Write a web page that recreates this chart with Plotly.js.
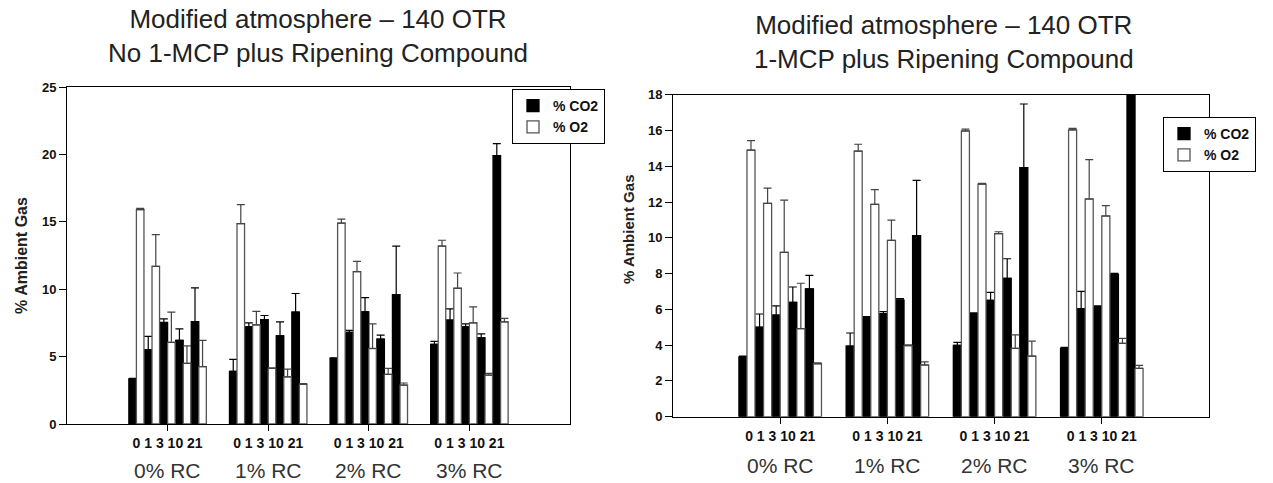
<!DOCTYPE html>
<html>
<head>
<meta charset="utf-8">
<script src="https://cdn.plot.ly/plotly-3.0.1.min.js"></script>
<style>html,body{margin:0;padding:0;background:#fff;}#chart{width:1273px;height:483px;}</style>
</head>
<body>
<div id="chart"></div>
<script>
// ---- data ----
const groups = ['0% RC', '1% RC', '2% RC', '3% RC'];
const days = ['0', '1', '3', '10', '21'];

// Left chart: No 1-MCP plus Ripening Compound (values by group, then day)
const leftCO2    = [3.33, 5.5, 7.53, 6.2, 7.6,   3.9, 7.2, 7.75, 6.54, 8.3,   4.86, 6.8, 8.32, 6.3, 9.6,   5.9, 7.7, 7.2, 6.39, 19.9];
const leftCO2Err = [0.05, 1.0, 0.27, 0.86, 2.5,  0.9, 0.3, 0.3, 1.04, 1.38,   0.05, 0.14, 1.06, 0.3, 3.6,  0.23, 0.84, 0.23, 0.3, 0.9];
const leftO2     = [15.9, 11.7, 6.05, 4.5, 4.25, 14.87, 7.36, 4.12, 3.5, 2.94, 14.9, 11.3, 5.6, 3.68, 2.89, 13.19, 10.07, 7.5, 3.63, 7.58];
const leftO2Err  = [0.1, 2.35, 2.25, 1.3, 1.95,  1.4, 1.0, 0.05, 0.57, 0.05,  0.3, 0.77, 1.83, 0.44, 0.15,  0.44, 1.13, 1.19, 0.12, 0.25];

// Right chart: 1-MCP plus Ripening Compound
const rightCO2    = [3.34, 5.0, 5.68, 6.39, 7.14,  3.95, 5.55, 5.76, 6.52, 10.12,  3.99, 5.76, 6.5, 7.73, 13.92,  3.82, 6.04, 6.15, 7.96, 20];
const rightCO2Err = [0.05, 0.74, 0.52, 0.86, 0.76, 0.73, 0.05, 0.11, 0.08, 3.09,   0.17, 0.05, 0.45, 1.1, 3.56,   0.05, 0.97, 0.05, 0.05, 0];
const rightO2     = [14.9, 11.93, 9.19, 4.92, 2.96, 14.85, 11.87, 9.86, 3.97, 2.89, 15.97, 13.0, 10.23, 3.82, 3.39, 16.03, 12.17, 11.22, 4.1, 2.7];
const rightO2Err  = [0.53, 0.85, 2.92, 2.54, 0.05,  0.38, 0.82, 1.13, 0.05, 0.17,  0.11, 0.05, 0.11, 0.75, 0.84,  0.09, 2.2, 0.58, 0.28, 0.17];

// ---- layout helpers ----
const DAY_STEP = 0.155, BAR_W = 0.075;
const xPos = [];
groups.forEach((g, gi) => days.forEach((d, di) => xPos.push(gi + (di - 2) * DAY_STEP)));
const zeros = xPos.map(() => 0);
const FONT = 'Arial, "Liberation Sans", sans-serif';
const YTITLE = '<b>% Ambient Gas</b>';

function barTrace(name, y, err, isCO2, xa, ya, legend) {
  return {
    type: 'bar', name: name, x: xPos, y: y,
    xaxis: xa, yaxis: ya, legend: legend,
    width: BAR_W, offset: isCO2 ? -BAR_W : 0,
    marker: {color: isCO2 ? '#000' : '#fff', line: {color: isCO2 ? '#000' : '#555', width: 1.3}},
    error_y: {type: 'data', symmetric: false, array: err, arrayminus: zeros,
              color: isCO2 ? '#000' : '#444', thickness: 1.2, width: 4},
    hoverinfo: 'x+y'
  };
}

const data = [
  barTrace('% CO2', leftCO2, leftCO2Err, true, 'x', 'y', 'legend'),
  barTrace('% O2', leftO2, leftO2Err, false, 'x', 'y', 'legend'),
  barTrace('% CO2', rightCO2, rightCO2Err, true, 'x2', 'y2', 'legend2'),
  barTrace('% O2', rightO2, rightO2Err, false, 'x2', 'y2', 'legend2')
];

const W = 1273, H = 483;
const px = v => v / W, py = v => (H - v) / H;
const dayText = days.join(' ');

function xAxis(domain, anchor) {
  return {domain: domain, anchor: anchor, range: [-1, 4], tickvals: [0, 1, 2, 3],
    ticktext: groups.map(() => '<b>' + dayText + '</b>'), ticks: 'outside', ticklen: 6, tickcolor: '#000',
    tickfont: {family: FONT, size: 14, color: '#111'},
    showline: true, linecolor: '#000', linewidth: 1, mirror: true,
    showgrid: false, zeroline: false, fixedrange: true};
}
function yAxis(domain, anchor, max, dtick, title) {
  const ax = {domain: domain, anchor: anchor, range: [0, max], dtick: dtick,
    ticks: 'outside', ticklen: 7, tickcolor: '#000',
    tickfont: {family: FONT, size: 13, weight: 'bold', color: '#111'},
    showline: true, linecolor: '#000', linewidth: 1, mirror: true,
    showgrid: false, zeroline: false, fixedrange: true};
  if (title) ax.title = {text: YTITLE, font: {family: FONT, size: 16, color: '#222'}, standoff: 10};
  return ax;
}

const annotations = [];
// Titles
annotations.push({text: 'Modified atmosphere – 140 OTR<br>No 1-MCP plus Ripening Compound',
  xref: 'paper', yref: 'paper', x: px(318), y: py(36), xanchor: 'center', yanchor: 'middle',
  showarrow: false, font: {family: FONT, size: 26, color: '#222'}});
annotations.push({text: 'Modified atmosphere – 140 OTR<br>1-MCP plus Ripening Compound',
  xref: 'paper', yref: 'paper', x: px(944), y: py(42), xanchor: 'center', yanchor: 'middle',
  showarrow: false, font: {family: FONT, size: 26, color: '#222'}});
// Right y-axis title (placed above the domain centre, as in the reference)
annotations.push({text: YTITLE, textangle: -90, xref: 'paper', yref: 'paper',
  x: px(628), y: py(230), xanchor: 'center', yanchor: 'middle', showarrow: false,
  font: {family: FONT, size: 15, color: '#222'}});
// Group labels
groups.forEach((g, gi) => {
  annotations.push({text: g, xref: 'x', yref: 'paper', x: gi, y: py(470), yanchor: 'middle',
    showarrow: false, font: {family: FONT, size: 21, color: '#333'}});
  annotations.push({text: g, xref: 'x2', yref: 'paper', x: gi, y: py(465), yanchor: 'middle',
    showarrow: false, font: {family: FONT, size: 21, color: '#333'}});
});

const legendBase = {bgcolor: '#fff', bordercolor: '#000', borderwidth: 1,
  font: {family: FONT, size: 14, weight: 'bold', color: '#111'},
  xanchor: 'left', yanchor: 'top', traceorder: 'normal', itemclick: false, itemdoubleclick: false};

const layout = {
  width: W, height: H, margin: {l: 0, r: 0, t: 0, b: 0},
  paper_bgcolor: '#fff', plot_bgcolor: '#fff',
  showlegend: true, barmode: 'overlay', bargap: 0,
  font: {family: FONT},
  xaxis: xAxis([px(67), px(570)], 'y'),
  yaxis: yAxis([py(424), py(87)], 'x', 25, 5, true),
  xaxis2: xAxis([px(673), px(1209)], 'y2'),
  yaxis2: yAxis([py(416.7), py(94.7)], 'x2', 18, 2, false),
  legend: Object.assign({}, legendBase, {x: px(512), y: py(89)}),
  legend2: Object.assign({}, legendBase, {x: px(1163), y: py(117)}),
  annotations: annotations
};

Plotly.newPlot('chart', data, layout, {displayModeBar: false, staticPlot: true});
</script>
</body>
</html>
